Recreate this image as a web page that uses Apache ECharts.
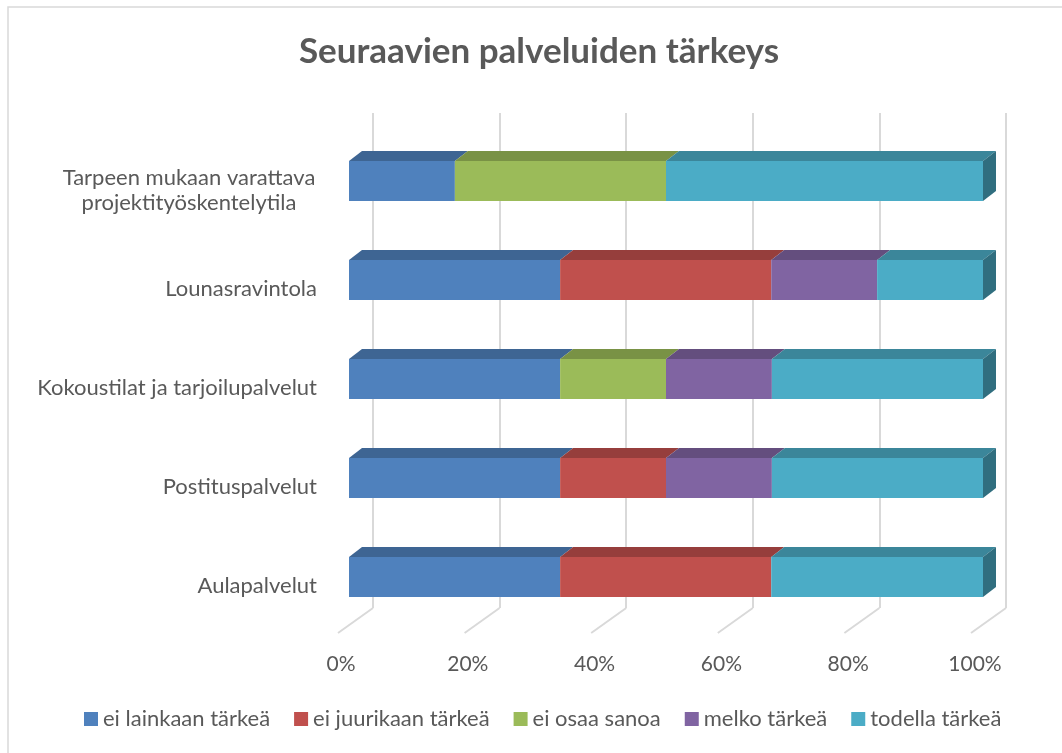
<!DOCTYPE html>
<html>
<head>
<meta charset="utf-8">
<script src="https://cdn.jsdelivr.net/npm/echarts@6/dist/echarts.min.js"></script>
<style>
  html, body { margin: 0; padding: 0; background: #fff; }
  #chart { width: 1062px; height: 753px; }
</style>
</head>
<body>
<div id="chart"></div>
<script>
// kategoriat ylhäältä alas
var categories = [
  'Tarpeen mukaan varattava\nprojektityöskentelytila',
  'Lounasravintola',
  'Kokoustilat ja tarjoilupalvelut',
  'Postituspalvelut',
  'Aulapalvelut'
]
var seriesNames = ['ei lainkaan tärkeä', 'ei juurikaan tärkeä', 'ei osaa sanoa', 'melko tärkeä', 'todella tärkeä']
// osuudet prosentteina
var eiLainkaan = [16.7, 33.3, 33.3, 33.3, 33.3]
var eiJuurikaan = [0, 33.3, 0, 16.7, 33.3]
var eiOsaa = [33.3, 0, 16.7, 0, 0]
var melko = [0, 16.7, 16.7, 16.7, 0]
var todella = [50, 16.7, 33.3, 33.3, 33.4]
var tickValues = [0, 20, 40, 60, 80, 100]

var values = [eiLainkaan, eiJuurikaan, eiOsaa, melko, todella]
var colors = ['#4F81BD', '#C0504D', '#9BBB59', '#8064A2', '#4BACC6']
var FONT = 'Lato'
var TEXT = '#595959'
var DX = 13, DY = 10 // 3d syvyys

function shade(hex, k) {
  var n = parseInt(hex.slice(1), 16)
  var r = Math.round(((n >> 16) & 255) * k)
  var g = Math.round(((n >> 8) & 255) * k)
  var b = Math.round((n & 255) * k)
  return 'rgb(' + r + ',' + g + ',' + b + ')'
}

// pinotaan käsin: [alku, loppu, kategoria]
var cum = categories.map(function() { return 0 })
var barSeries = values.map(function(arr, si) {
  var data = []
  arr.forEach(function(v, ci) {
    if (v > 0) data.push([cum[ci], cum[ci] + v, ci])
    cum[ci] += v
  })
  var col = colors[si]
  return {
    name: seriesNames[si],
    type: 'custom',
    xAxisIndex: 0,
    yAxisIndex: 0,
    z: 5,
    itemStyle: { color: col },
    encode: { x: [0, 1], y: 2 },
    data: data,
    renderItem: function(params, api) {
      var p0 = api.coord([api.value(0), api.value(2)])
      var p1 = api.coord([api.value(1), api.value(2)])
      var h = api.size([0, 1])[1] * 0.405
      var yT = p0[1] - h / 2, yB = p0[1] + h / 2
      var x0 = p0[0], x1 = p1[0]
      var children = [
        {
          type: 'polygon',
          shape: { points: [[x0, yT], [x1, yT], [x1 + DX, yT - DY], [x0 + DX, yT - DY]] },
          style: { fill: shade(col, 0.78) }
        },
        {
          type: 'rect',
          shape: { x: x0, y: yT, width: x1 - x0, height: h },
          style: { fill: col }
        }
      ]
      if (api.value(1) >= 99.9) {
        children.push({
          type: 'polygon',
          shape: { points: [[x1, yT], [x1 + DX, yT - DY], [x1 + DX, yB - DY], [x1, yB]] },
          style: { fill: shade(col, 0.64) }
        })
      }
      return { type: 'group', children: children }
    }
  }
})

var chart = echarts.init(document.getElementById('chart'))
chart.setOption({
  animation: false,
  textStyle: { fontFamily: FONT, color: TEXT },
  color: colors,
  title: {
    text: 'Seuraavien palveluiden tärkeys',
    left: 534,
    textAlign: 'center',
    top: 29,
    textStyle: { fontFamily: FONT, fontSize: 35, fontWeight: 'bold', color: TEXT }
  },
  legend: {
    bottom: 18,
    left: 79,
    icon: 'rect',
    itemWidth: 14,
    itemHeight: 14,
    itemGap: 24,
    textStyle: { fontFamily: FONT, fontSize: 22, color: TEXT },
    data: seriesNames
  },
  graphic: [{
    type: 'rect',
    shape: { x: 8, y: 7, width: 1200, height: 900 },
    style: { fill: 'none', stroke: '#d9d9d9', lineWidth: 1.5 },
    silent: true
  }],
  grid: [
    // palkit
    { left: 349, right: 79, top: 131.5, height: 495 },
    // takaseinän apuviivat
    { left: 373, right: 56, top: 113, bottom: 145 }
  ],
  xAxis: [
    {
      gridIndex: 0,
      type: 'value',
      min: 0,
      max: 100,
      interval: 20,
      axisLine: { show: false },
      axisTick: { show: false },
      splitLine: { show: false },
      axisLabel: {
        margin: 27,
        padding: [0, 16, 0, 0],
        fontFamily: FONT,
        fontSize: 21,
        color: TEXT,
        formatter: '{value}%'
      }
    },
    {
      gridIndex: 1,
      type: 'value',
      min: 0,
      max: 100,
      interval: 20,
      axisLine: { show: false },
      axisTick: { show: false },
      axisLabel: { show: false },
      splitLine: { show: true, lineStyle: { color: '#d9d9d9', width: 2 } }
    }
  ],
  yAxis: [
    {
      gridIndex: 0,
      type: 'category',
      inverse: true,
      data: categories,
      axisLine: { show: false },
      axisTick: { show: false },
      axisLabel: {
        margin: 32,
        padding: [18, 0, 0, 0],
        fontFamily: FONT,
        fontSize: 22,
        color: TEXT,
        formatter: function(v) {
          if (v.indexOf('\n') >= 0) {
            return v.split('\n').map(function(l) { return '{c|' + l + '}' }).join('\n')
          }
          return v
        },
        rich: {
          c: { width: 256, align: 'center', fontFamily: FONT, fontSize: 22, color: TEXT, lineHeight: 25 }
        }
      }
    },
    {
      gridIndex: 1,
      type: 'value',
      min: 0,
      max: 1,
      show: false,
      splitLine: { show: false }
    }
  ],
  series: [
    {
      // lattian vinoviivat
      type: 'custom',
      xAxisIndex: 1,
      yAxisIndex: 1,
      silent: true,
      z: 1,
      data: tickValues.map(function(v) { return [v, 0] }),
      renderItem: function(params, api) {
        var p = api.coord([api.value(0), 0])
        return {
          type: 'line',
          shape: { x1: p[0], y1: p[1], x2: p[0] - 35, y2: p[1] + 25 },
          style: { stroke: '#d9d9d9', lineWidth: 2 }
        }
      }
    }
  ].concat(barSeries)
})
</script>
</body>
</html>
